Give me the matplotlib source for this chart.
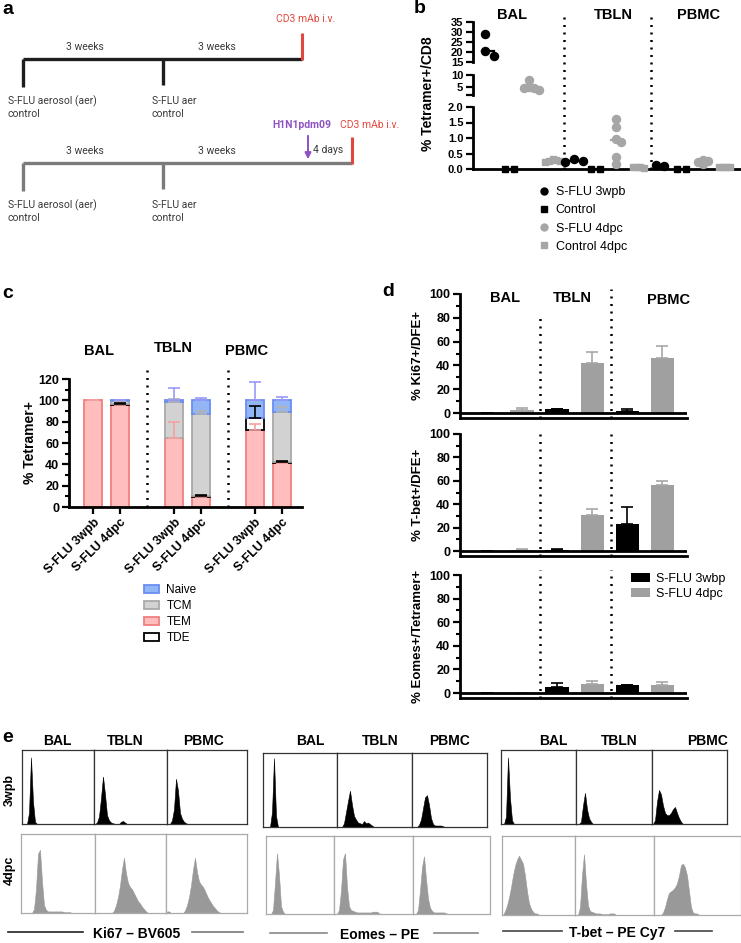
import numpy as np
import matplotlib
matplotlib.use('Agg')
import matplotlib.pyplot as plt
from matplotlib.patches import Patch
from matplotlib.lines import Line2D

W, H = 741, 943
plt.rcParams['font.family'] = ['Liberation Sans', 'DejaVu Sans']
NARROW = ['Liberation Sans Narrow', 'Liberation Sans', 'DejaVu Sans']

# ---------------- data ----------------
tissues = ['BAL', 'TBLN', 'PBMC']

# b: % Tetramer+/CD8, per tissue: S-FLU 3wpb, Control, S-FLU 4dpc, Control 4dpc
b_groups = ['S-FLU 3wpb', 'Control', 'S-FLU 4dpc', 'Control 4dpc']
b_bal = [[29, 20.5, 18], [0, 0], [7.8, 5.0, 4.8, 4.5, 4.0], [0.33, 0.3, 0.27, 0.25, 0.22]]
b_tbln = [[0.32, 0.25, 0.22], [0, 0], [1.6, 1.35, 0.97, 0.88, 0.4, 0.15], [0.06, 0.05, 0.05, 0.04]]
b_pbmc = [[0.12, 0.11], [0, 0], [0.3, 0.25, 0.24, 0.17], [0.08, 0.07, 0.06, 0.05]]

# c: stacked phenotype (% Tetramer+)
c_labels = ['S-FLU 3wpb', 'S-FLU 4dpc'] * 3
c_tem = [100, 96, 65, 9.5, 72, 41]
c_tde = [0, 1, 0, 1, 11, 1.5]
c_tcm = [0, 2.5, 33, 77, 0, 47]
c_naive = [0, 0.5, 2, 12.5, 17, 10.5]
c_tem_sd = [0, 0.5, 15, 1, 6, 0.5]
c_tde_sd = [0, 0.3, 0, 0.5, 12, 1]
c_tcm_sd = [0, 0.5, 3.5, 2.5, 0, 4.5]
c_naive_sd = [0, 0.5, 12, 2, 17, 3.5]

# d: BAL, TBLN, PBMC
d_ki67_3wbp = [-0.8, 3.0, 2.0]
d_ki67_3wbp_sd = [0.3, 0.7, 1.7]
d_ki67_4dpc = [2.5, 42.3, 46]
d_ki67_4dpc_sd = [2.0, 8.7, 10.6]
d_tbet_3wbp = [0, 0.6, 23.4]
d_tbet_3wbp_sd = [0, 1.4, 14.3]
d_tbet_4dpc = [1.1, 30.6, 56.3]
d_tbet_4dpc_sd = [0.6, 5.7, 3.7]
d_eomes_3wbp = [0, 5.0, 6.5]
d_eomes_3wbp_sd = [0, 3.5, 0.4]
d_eomes_4dpc = [-0.3, 7.6, 6.7]
d_eomes_4dpc_sd = [0.2, 2.7, 2.9]

# e: flow histograms, bin heights (fraction of panel height), BAL/TBLN/PBMC
ki67_3wpb = [[0, 0, 0, 0.15, 0.9, 0.3, 0.03],
             [0, 0.02, 0.1, 0.35, 0.64, 0.4, 0.12, 0.05, 0.02, 0.01, 0, 0, 0, 0.03, 0.04, 0.02],
             [0, 0, 0.05, 0.2, 0.61, 0.45, 0.15, 0.07, 0.03, 0.01]]
ki67_4dpc = [[0, 0, 0, 0, 0, 0, 0.05, 0.3, 0.75, 0.8, 0.4, 0.1, 0.04, 0.02, 0.02, 0.02, 0.02,
              0.02, 0.02, 0.02, 0.02, 0.01, 0.01, 0.01, 0.01],
             [0, 0, 0, 0, 0, 0, 0, 0, 0, 0.03, 0.1, 0.2, 0.35, 0.55, 0.7, 0.5, 0.38, 0.33, 0.3,
              0.25, 0.2, 0.15, 0.12, 0.08, 0.05, 0.02],
             [0.02, 0.02, 0, 0, 0, 0, 0, 0, 0, 0.03, 0.1, 0.2, 0.35, 0.55, 0.7, 0.52, 0.4, 0.36,
              0.33, 0.28, 0.22, 0.17, 0.13, 0.09, 0.06, 0.03, 0.01]]
eomes_3wpb = [[0, 0, 0, 0, 0.2, 0.93, 0.15],
              [0, 0, 0, 0.05, 0.2, 0.35, 0.49, 0.3, 0.15, 0.1, 0.06, 0.05, 0.04, 0.08, 0.05,
               0.06, 0.04, 0.02],
              [0, 0, 0, 0.03, 0.1, 0.25, 0.4, 0.43, 0.3, 0.12, 0.04, 0.02, 0.02, 0.02, 0.02, 0.01]]
eomes_4dpc = [[0, 0, 0, 0.05, 0.4, 0.78, 0.5, 0.1, 0.03],
              [0, 0, 0.05, 0.3, 0.7, 0.78, 0.35, 0.1, 0.05, 0.04, 0.03, 0.02, 0.02, 0.02, 0.02,
               0.02, 0.02, 0.02, 0.02, 0.03, 0.03, 0.03, 0.01],
              [0, 0, 0.05, 0.3, 0.6, 0.74, 0.45, 0.2, 0.08, 0.04, 0.02, 0.02, 0.02, 0.02, 0.02,
               0.02, 0.01]]
tbet_3wpb = [[0, 0, 0.1, 0.9, 0.35, 0.05],
             [0, 0, 0.03, 0.25, 0.42, 0.2, 0.08, 0.03],
             [0, 0.05, 0.3, 0.46, 0.4, 0.25, 0.15, 0.12, 0.12, 0.15, 0.2, 0.23, 0.15, 0.08, 0.03]]
tbet_4dpc = [[0, 0.05, 0.12, 0.22, 0.35, 0.5, 0.62, 0.7, 0.75, 0.7, 0.65, 0.5, 0.3, 0.15, 0.08,
              0.04, 0.02, 0.02],
             [0, 0, 0.1, 0.5, 0.77, 0.4, 0.12, 0.05, 0.04, 0.03, 0.02, 0.02, 0.02, 0.01, 0.01,
              0.01, 0.01, 0.02, 0.02, 0.02],
             [0, 0, 0, 0, 0.03, 0.1, 0.2, 0.28, 0.3, 0.32, 0.35, 0.4, 0.5, 0.63, 0.65, 0.6, 0.5,
              0.3, 0.1, 0.03, 0.02, 0.02]]
e_markers = ['Ki67 – BV605', 'Eomes – PE', 'T-bet – PE Cy7']

# ---------------- figure ----------------
fig = plt.figure(figsize=(W / 100, H / 100), dpi=100)


def px_axes(x0, y0, x1, y1):
    return fig.add_axes([x0 / W, 1 - y1 / H, (x1 - x0) / W, (y1 - y0) / H])


def style_axis(ax, lw=2.0, fs=8):
    for s in ['top', 'right']:
        ax.spines[s].set_visible(False)
    for s in ['left', 'bottom']:
        ax.spines[s].set_linewidth(lw)
    ax.tick_params(direction='out', length=5, width=lw * 0.8, labelsize=fs, pad=2)
    for lab in ax.get_yticklabels():
        lab.set_fontweight('bold')


ov = px_axes(0, 0, W, H)
ov.set_xlim(0, W)
ov.set_ylim(H, 0)
ov.axis('off')

# panel letters
for letter, x, y in [('a', 2, 1), ('b', 414, 0), ('c', 2, 285), ('d', 382, 283), ('e', 2, 729)]:
    ov.text(x, y, letter, fontsize=14, fontweight='bold', va='top', ha='left')

# ---------------- a: timeline ----------------
red = '#e0483f'
purple = '#8e52c2'
tc = '#3a3a3a'
for y, col, xend, d0, d1 in [(59, '#1e1e1e', 302, 87, 85), (163, '#7b7b7b', 352, 191, 189)]:
    ov.plot([23, xend], [y, y], color=col, lw=2.4, solid_capstyle='butt')
    ov.plot([23, 23], [y, d0], color=col, lw=2.4, solid_capstyle='butt')
    ov.plot([163, 163], [y, d1], color=col, lw=2.4, solid_capstyle='butt')
    ov.plot([xend, xend], [y - 26, y + 1], color=red, lw=2.2, solid_capstyle='butt')
    for xw in [85, 217]:
        ov.text(xw, y - 12, '3 weeks', fontsize=7.5, color=tc, ha='center', va='center', family='Roboto')
    ov.text(8, y + 42, 'S-FLU aerosol (aer)', fontsize=7.5, color=tc, va='center', family='Roboto')
    ov.text(8, y + 55, 'control', fontsize=7.5, color=tc, va='center', family='Roboto')
    ov.text(152, y + 42, 'S-FLU aer', fontsize=7.5, color=tc, va='center', family='Roboto')
    ov.text(152, y + 55, 'control', fontsize=7.5, color=tc, va='center', family='Roboto')
ov.text(306, 19, 'CD3 mAb i.v.', fontsize=7.5, color=red, ha='center', va='center', family='Roboto')
ov.text(340, 125, 'CD3 mAb i.v.', fontsize=7.5, color=red, ha='left', va='center', family='Roboto')
ov.text(302, 125, 'H1N1pdm09', fontsize=7.5, color=purple, ha='center', va='center',
        fontweight='bold', family='Roboto')
ov.annotate('', xy=(308, 162), xytext=(308, 133),
            arrowprops=dict(arrowstyle='-|>', color=purple, lw=1.4, mutation_scale=9))
ov.text(313, 150, '4 days', fontsize=7.5, color=tc, ha='left', va='center', family='Roboto')

# ---------------- b: broken-axis scatter ----------------
b_top = px_axes(473, 22, 740, 62)
b_mid = px_axes(473, 75, 740, 95)
b_low = px_axes(473, 107, 740, 169)
b_top.set_ylim(15, 35)
b_mid.set_ylim(1.8, 10)
b_low.set_ylim(0, 2)
b_top.set_yticks([15, 20, 25, 30, 35])
b_mid.set_yticks([1.8, 5, 10])
b_mid.set_yticklabels(['', '5', '10'])
b_low.set_yticks([0, 0.5, 1.0, 1.5, 2.0])
b_low.set_yticklabels(['0.0', '0.5', '1.0', '1.5', '2.0'])
for ax in [b_top, b_mid, b_low]:
    ax.set_xlim(-0.7, 11.72)
    ax.set_xticks([])
    ax.patch.set_alpha(0)
    style_axis(ax, lw=2.0, fs=8)
for ax in [b_top, b_mid]:
    ax.spines['bottom'].set_visible(False)


def seg_of(v):
    if v >= 15:
        return b_top
    if v > 2:
        return b_mid
    return b_low


def swarm(vals, step=0.4, r=7.0):
    placed = []
    ks = []
    for v in vals:
        py = seg_of(v).transData.transform((0, v))[1]
        for k in [0, 1, -1, 2, -2, 3, -3]:
            if all(not (kk == k and abs(py - q) < r) for q, kk in placed):
                break
        placed.append((py, k))
        ks.append(k)
    ks = np.array(ks, dtype=float)
    return (ks - ks.mean()) * step


b_colors = ['black', 'black', '#a6a6a6', '#a6a6a6']
b_markers = ['o', 's', 'o', 's']
b_steps = [0.4, 0.42, 0.22, 0.17]
for ti, tdata in enumerate([b_bal, b_tbln, b_pbmc]):
    for gi, vals in enumerate(tdata):
        xc = ti * 4 + gi
        offs = swarm(vals, step=b_steps[gi], r=7.0 if gi < 2 else 4.0)
        med = np.median(vals)
        seg_of(med).plot([xc - 0.28, xc + 0.28], [med, med], color=b_colors[gi], lw=1.6, zorder=2)
        for v, o in zip(vals, offs):
            seg_of(v).plot(xc + o, v, marker=b_markers[gi], color=b_colors[gi],
                           ms=5.8 if b_markers[gi] == 'o' else 5.0, ls='none', zorder=3, clip_on=False)
for xs in [3.53, 7.58]:
    b_low.plot([xs, xs], [0, 2.48], transform=b_low.get_xaxis_transform(), color='black',
               lw=1.8, ls=(0, (0.8, 2.2)), clip_on=False)
for t, xt in zip(tissues, [1.1, 5.85, 9.8]):
    b_top.text(xt, 1.17, t, transform=b_top.get_xaxis_transform(), ha='center', va='center',
               fontsize=10.5, fontweight='bold')
fig.text(428 / W, 1 - 94 / H, '% Tetramer+/CD8', rotation=90, ha='center', va='center',
         fontsize=10, fontweight='bold')
b_handles = [Line2D([], [], marker=m, color=c, ls='none', ms=5)
             for m, c in zip(b_markers, b_colors)]
b_low.legend(b_handles, b_groups, loc='upper left', bbox_to_anchor=(538 / W, 1 - 186 / H),
             bbox_transform=fig.transFigure, frameon=False, fontsize=9, handletextpad=0.4,
             labelspacing=0.5, borderpad=0, borderaxespad=0, handlelength=1.0)

# ---------------- c: stacked bars ----------------
cx = np.array([0, 1, 3, 4, 6, 7])
ax_c = px_axes(69, 379, 302, 507)
ax_c.set_xlim(-0.9, 7.74)
ax_c.set_ylim(0, 120)
ax_c.set_yticks(np.arange(0, 121, 20))
ax_c.set_yticks(np.arange(0, 121, 10), minor=True)
ax_c.set_xticks(cx)
ax_c.set_xticklabels(c_labels, rotation=45, ha='right', va='top', rotation_mode='anchor',
                     fontsize=9, fontweight='bold')
style_axis(ax_c, lw=2.0, fs=9)
ax_c.tick_params(which='minor', length=3, width=1.5)
ax_c.patch.set_alpha(0)

segs = {'TEM': (c_tem, c_tem_sd, '#ffbdbd', '#f07f7f', '#f4a0a0'),
        'TDE': (c_tde, c_tde_sd, 'white', 'black', 'black'),
        'TCM': (c_tcm, c_tcm_sd, '#d2d2d2', '#a9a9a9', '#b3b3b3'),
        'Naive': (c_naive, c_naive_sd, '#92b5f6', '#6a8ef0', '#9a9af7')}
bottom = np.zeros(len(cx))
for name in ['TEM', 'TDE', 'TCM', 'Naive']:
    vals, sd, fc, ec, erc = segs[name]
    vals = np.array(vals, dtype=float)
    sd = np.array(sd, dtype=float)
    m = vals > 0
    ax_c.bar(cx[m], vals[m], bottom=bottom[m], width=0.67, color=fc, edgecolor=ec, lw=1.3, zorder=2)
    top = bottom + vals
    ax_c.errorbar(cx[m], top[m], yerr=[np.zeros(m.sum()), sd[m]], fmt='none', ecolor=erc,
                  elinewidth=1.2, capsize=4, capthick=1.2, zorder=3)
    bottom = top
for xs in [2, 5]:
    ax_c.plot([xs, xs], [0, 1.095], transform=ax_c.get_xaxis_transform(), color='black',
              lw=1.8, ls=(0, (0.8, 2.2)), clip_on=False)
for t, xt, yt in zip(tissues, [0.2, 2.96, 5.7], [1.22, 1.245, 1.22]):
    ax_c.text(xt, yt, t, transform=ax_c.get_xaxis_transform(), ha='center', va='center',
              fontsize=10.5, fontweight='bold')
fig.text(30 / W, 1 - 443 / H, '% Tetramer+', rotation=90, ha='center', va='center',
         fontsize=10, fontweight='bold')
c_order = ['Naive', 'TCM', 'TEM', 'TDE']
c_handles = [Patch(facecolor=segs[n][2], edgecolor=segs[n][3], lw=1.3) for n in c_order]
ax_c.legend(c_handles, c_order, loc='upper left',
            bbox_to_anchor=(144 / W, 1 - 584 / H), bbox_transform=fig.transFigure,
            frameon=False, fontsize=8.5, handletextpad=0.6, labelspacing=0.35, borderpad=0,
            borderaxespad=0, handlelength=1.3, handleheight=0.6)

# ---------------- d: bar panels ----------------
dx = np.arange(6)
d_panels = [(294, 418, '% Ki67+/DFE+', d_ki67_3wbp, d_ki67_3wbp_sd, d_ki67_4dpc, d_ki67_4dpc_sd),
            (434, 556, '% T-bet+/DFE+', d_tbet_3wbp, d_tbet_3wbp_sd, d_tbet_4dpc, d_tbet_4dpc_sd),
            (575, 698, '% Eomes+/Tetramer+', d_eomes_3wbp, d_eomes_3wbp_sd, d_eomes_4dpc,
             d_eomes_4dpc_sd)]
d_axes = []
for pi, (y0, y1, ylab, v3, s3, v4, s4) in enumerate(d_panels):
    ax = px_axes(460, y0, 687, y1)
    d_axes.append(ax)
    ax.set_xlim(-0.77, 5.71)
    ax.set_ylim(-4.2, 100)
    ax.set_yticks(np.arange(0, 101, 20))
    ax.set_yticks(np.arange(0, 101, 10), minor=True)
    ax.set_xticks([])
    style_axis(ax, lw=2.0, fs=9)
    ax.tick_params(which='minor', length=3, width=1.5)
    ax.patch.set_alpha(0)
    ax.axhline(0, color='black', lw=2.0, zorder=4)
    xb = dx[0::2]
    xg = dx[1::2]
    ax.bar(xb, v3, width=0.66, color='black', zorder=2)
    ax.bar(xg, v4, width=0.66, color='#a0a0a0', zorder=2)
    ax.errorbar(xb, np.maximum(v3, 0), yerr=[np.zeros(3), s3], fmt='none', ecolor='black',
                elinewidth=1.2, capsize=4, capthick=1.2, zorder=3)
    ax.errorbar(xg, np.maximum(v4, 0), yerr=[np.zeros(3), s4], fmt='none', ecolor='#a8a8a8',
                elinewidth=1.2, capsize=4, capthick=1.2, zorder=3)
    for k, xs in enumerate([1.5, 3.55]):
        top = 0.85 if (pi == 0 and k == 0) else 1.04
        ax.plot([xs, xs], [0, top], transform=ax.get_xaxis_transform(),
                color='black', lw=1.8, ls=(0, (0.8, 2.2)), clip_on=False)
    fig.text(418 / W, 1 - (y0 + y1) / 2 / H, ylab, rotation=90, ha='center', va='center',
             fontsize=9.5, fontweight='bold')
for t, xt, yt in zip(tissues, [0.52, 2.43, 5.17], [0.97, 0.97, 0.95]):
    d_axes[0].text(xt, yt, t, transform=d_axes[0].get_xaxis_transform(), ha='center',
                   va='center', fontsize=10.5, fontweight='bold')
d_handles = [Patch(facecolor='black'), Patch(facecolor='#a0a0a0')]
d_axes[2].legend(d_handles, ['S-FLU 3wbp', 'S-FLU 4dpc'], loc='upper left',
                 bbox_to_anchor=(631 / W, 1 - 573 / H), bbox_transform=fig.transFigure,
                 frameon=False, fontsize=9, handletextpad=0.5, labelspacing=0.25, borderpad=0,
                 borderaxespad=0, handlelength=1.5, handleheight=0.7)

# ---------------- e: histograms ----------------
e_layout = [
    (ki67_3wpb, ki67_4dpc, (750, 824, [22, 94, 167, 247]), (834, 913, [21, 95, 166, 247]),
     [57, 125, 203], (137, 934, [8, 83], [192, 243], ['#222222', '#777777'])),
    (eomes_3wpb, eomes_4dpc, (753, 827, [263, 337, 412, 487]), (836, 914, [266, 334, 413, 490]),
     [310, 380, 450], (380, 935, [270, 327], [434, 478], ['#888888', '#888888'])),
    (tbet_3wpb, tbet_4dpc, (750, 824, [501, 576, 652, 727]), (836, 915, [502, 575, 654, 741]),
     [553, 619, 708], (617, 933, [503, 562], [675, 712], ['#444444', '#444444'])),
]


def hist_box(x0, x1, y0, y1, heights, color, edge):
    ax = px_axes(x0, y0, x1, y1)
    nb = (x1 - x0) / 2.0
    h = np.zeros(int(np.ceil(nb)) + 1)
    h[:len(heights)] = heights
    xc = np.arange(len(h)) + 0.5
    ax.fill_between(xc, h, 0, color=color, lw=0.4, edgecolor=color)
    ax.set_xlim(0, nb)
    ax.set_ylim(0, 1)
    ax.set_xticks([])
    ax.set_yticks([])
    for s in ax.spines.values():
        s.set_color(edge)
        s.set_linewidth(0.9)


for mi, (h3, h4, top_row, bot_row, hx, lab) in enumerate(e_layout):
    ty0, ty1, txs = top_row
    by0, by1, bxs = bot_row
    for k in range(3):
        hist_box(txs[k], txs[k + 1], ty0, ty1, h3[k], 'black', '#333333')
        hist_box(bxs[k], bxs[k + 1], by0, by1, h4[k], '#999999', '#aaaaaa')
        ov.text(hx[k], 741, tissues[k], ha='center', va='center', fontsize=10,
                fontweight='bold', family=NARROW)
    lx, ly, l1, l2, lc = lab
    ov.text(lx, ly, e_markers[mi], ha='center', va='center', fontsize=10, fontweight='bold',
            family=NARROW)
    ov.plot(l1, [ly - 2, ly - 2], color=lc[0], lw=1.2)
    ov.plot(l2, [ly - 2, ly - 2], color=lc[1], lw=1.2)
ov.text(10, 790, '3wpb', rotation=90, ha='center', va='center', fontsize=9, fontweight='bold')
ov.text(10, 870, '4dpc', rotation=90, ha='center', va='center', fontsize=9, fontweight='bold')

fig.savefig('out.png', dpi=100)
